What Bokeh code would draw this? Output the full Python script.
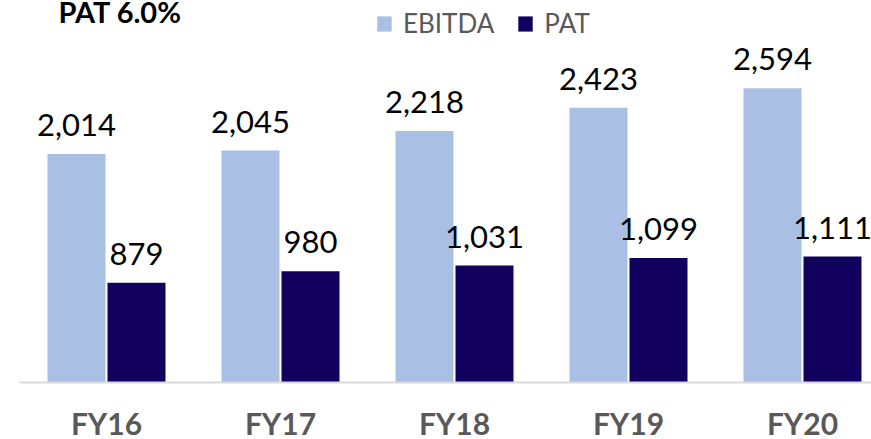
from bokeh.plotting import figure
from bokeh.models import Range1d, Legend, LegendItem, Label, ColumnDataSource
from bokeh.transform import dodge
from bokeh.core.properties import value
from bokeh.embed import file_html
from bokeh.resources import INLINE

categories = ["FY16", "FY17", "FY18", "FY19", "FY20"]
ebitda = [2014, 2045, 2218, 2423, 2594]
pat = [879, 980, 1031, 1099, 1111]
title_text = "PAT 6.0%"

idx = list(range(len(categories)))
src = ColumnDataSource(dict(
    x=idx, cat=categories, ebitda=ebitda, pat=pat,
    ebitda_lbl=[f"{v:,}" for v in ebitda],
    pat_lbl=[f"{v:,}" for v in pat],
))

W, H = 871, 439
p = figure(width=W, height=H, output_backend="svg", toolbar_location=None,
           x_range=Range1d(-0.6092, 4.3966), y_range=Range1d(-502.6, 3368.6),
           min_border_left=0, min_border_right=0, min_border_top=0, min_border_bottom=0)
p.axis.visible = False
p.grid.visible = False
p.outline_line_color = None
p.background_fill_color = "white"
p.border_fill_color = "white"

BLUE = "#AABFE4"
NAVY = "#12005E"
bw = 58 / 174
off = 30 / 174

r1 = p.vbar(x=dodge("x", -off, range=p.x_range), top="ebitda", width=bw, source=src,
            fill_color=BLUE, line_color=None)
r2 = p.vbar(x=dodge("x", off, range=p.x_range), top="pat", width=bw, source=src,
            fill_color=NAVY, line_color=None)

# baseline
p.segment(x0=-0.5, y0=0, x1=len(categories) - 0.5, y1=0, line_color="#D9D9D9", line_width=2)

lbl_kw = dict(text_font=value("Lato"), text_font_size="31px", text_color="#000000",
              text_align="center", text_baseline="alphabetic", y_offset=-29)
p.text(x=dodge("x", -off, range=p.x_range), y="ebitda", text="ebitda_lbl", source=src, **lbl_kw)
p.text(x=dodge("x", off, range=p.x_range), y="pat", text="pat_lbl", source=src, **lbl_kw)

# category labels
p.text(x="x", y=0, text="cat", source=src, text_font=value("Lato"), text_font_size="30px",
       text_font_style="bold", text_color="#595959", text_align="center",
       text_baseline="alphabetic", y_offset=40)

# title
p.add_layout(Label(x=58, y=H - 11, x_units="screen", y_units="screen", text=title_text,
                   text_font="Lato", text_font_size="29px", text_font_style="bold",
                   text_color="#000000", text_baseline="alphabetic"))

legend = Legend(items=[LegendItem(label="EBITDA", renderers=[r1]),
                       LegendItem(label="PAT", renderers=[r2])],
                orientation="horizontal", location=(375, H - 39),
                glyph_width=18, glyph_height=19, label_standoff=10, spacing=22,
                label_text_font="Lato", label_text_font_size="26px", label_text_color="#595959",
                padding=0, margin=0, border_line_color=None, background_fill_alpha=0)
p.add_layout(legend)

open("out.html", "w").write(file_html(p, INLINE))
